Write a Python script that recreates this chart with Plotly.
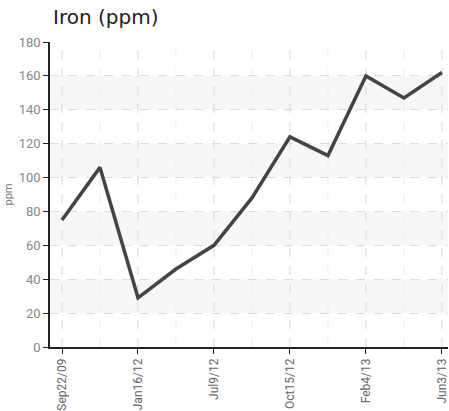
import plotly.graph_objects as go

dates = ["Sep22/09", "", "Jan16/12", "", "Jul9/12", "", "Oct15/12", "", "Feb4/13", "", "Jun3/13"]
iron = [75, 106, 29, 46, 60, 88, 124, 113, 160, 147, 162]
y_ticks = [0, 20, 40, 60, 80, 100, 120, 140, 160, 180]

idx = list(range(len(dates)))
fig = go.Figure()

# alternate bands
for lo in [20, 60, 100, 140]:
    fig.add_shape(type="rect", xref="paper", yref="y", x0=0, x1=1, y0=lo, y1=lo + 20,
                  fillcolor="#f7f7f7", line_width=0, layer="below")

fig.add_trace(go.Scatter(x=idx, y=iron, mode="lines",
                         line=dict(color="#444444", width=3.5), hoverinfo="skip"))

label_idx = [i for i, d in enumerate(dates) if d]
tfont = "Liberation Sans Narrow, Roboto, DejaVu Sans"
fig.update_layout(
    width=449, height=411,
    margin=dict(l=50, r=1, t=42, b=64),
    plot_bgcolor="white", paper_bgcolor="white",
    showlegend=False,
    title=dict(text="Iron (ppm)", x=53 / 449, xanchor="left", y=1 - 10 / 411, yanchor="top",
               font=dict(family="DejaVu Sans", size=20, color="#222")),
    xaxis=dict(range=[-0.316, 10.16], tickvals=label_idx, automargin=False,
               ticktext=[dates[i] for i in label_idx], tickangle=-90,
               showline=True, linecolor="#222", linewidth=1.5,
               ticks="outside", ticklen=5, tickcolor="#222",
               showgrid=False, zeroline=False,
               tickfont=dict(family=tfont, size=12, color="#666")),
    yaxis=dict(range=[0, 180], tickvals=y_ticks, automargin=False,
               showline=True, linecolor="#222", linewidth=1.5,
               ticks="outside", ticklen=5, tickcolor="#222",
               gridcolor="#dcdcdc", griddash="dash", gridwidth=1, zeroline=False,
               title=dict(text="ppm", standoff=4,
                          font=dict(family=tfont, size=11, color="#777")),
               tickfont=dict(family=tfont, size=13, color="#888")),
)

# vertical dashed gridlines at each point
for i in idx:
    fig.add_shape(type="line", xref="x", yref="paper", x0=i, x1=i, y0=0, y1=1,
                  line=dict(color="#d6d6d6" if dates[i] else "#ededed", width=1, dash="dash"),
                  layer="below")

fig.write_html("out.html", config={"displayModeBar": False},
               post_script="document.body.style.margin='0';document.body.style.overflow='hidden';")
